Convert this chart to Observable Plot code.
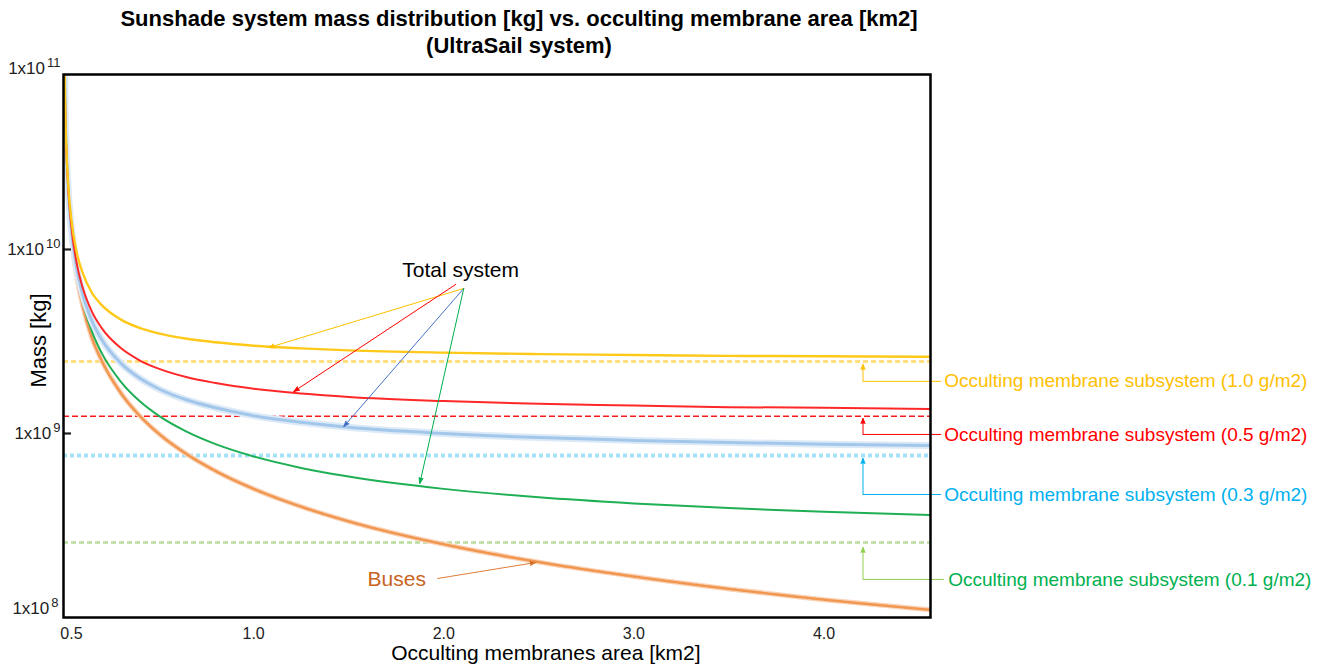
<!DOCTYPE html>
<html><head><meta charset="utf-8">
<script src="https://cdn.jsdelivr.net/npm/d3@7"></script>
<script src="https://cdn.jsdelivr.net/npm/@observablehq/plot@0.6"></script>
<style>
body{margin:0;background:#fff;font-family:"Liberation Sans",Arial,sans-serif;}
#title{width:1038px;height:60px;box-sizing:border-box;padding-top:5px;text-align:center;font-weight:bold;font-size:22px;line-height:27px;color:#000;}
#chart svg{display:block;}
</style></head><body>
<div id="title">Sunshade system mass distribution [kg] vs. occulting membrane area [km2]<br>(UltraSail system)</div>
<div id="chart"></div>
<script>
// ---- data ----
const area = [0.005, 0.01, 0.02, 0.04, 0.07, 0.1, 0.15, 0.2, 0.3, 0.4, 0.5, 0.65, 0.8, 1.0, 1.25, 1.5, 2.0, 2.5, 3.0, 3.5, 4.0, 4.56];
const buses = [1.0e11, 5.0e10, 2.5e10, 1.25e10, 7.1e9, 5.0e9, 3.3e9, 2.5e9, 1.67e9, 1.25e9, 1.0e9, 7.7e8, 6.25e8, 5.0e8, 4.0e8, 3.33e8, 2.5e8, 2.0e8, 1.67e8, 1.43e8, 1.25e8, 1.1e8];
const totalYellow = [1.025e11, 5.25e10, 2.75e10, 1.5e10, 9.6e9, 7.5e9, 5.8e9, 5.0e9, 4.17e9, 3.75e9, 3.5e9, 3.27e9, 3.13e9, 3.0e9, 2.9e9, 2.83e9, 2.75e9, 2.7e9, 2.67e9, 2.64e9, 2.63e9, 2.61e9];
const totalRed = [1.013e11, 5.13e10, 2.63e10, 1.38e10, 8.35e9, 6.25e9, 4.58e9, 3.75e9, 2.92e9, 2.5e9, 2.25e9, 2.02e9, 1.88e9, 1.75e9, 1.65e9, 1.58e9, 1.5e9, 1.45e9, 1.42e9, 1.39e9, 1.38e9, 1.36e9];
const totalBlue = [1.008e11, 5.08e10, 2.58e10, 1.33e10, 7.85e9, 5.75e9, 4.08e9, 3.25e9, 2.42e9, 2.0e9, 1.75e9, 1.52e9, 1.38e9, 1.25e9, 1.15e9, 1.08e9, 1.0e9, 9.5e8, 9.17e8, 8.93e8, 8.75e8, 8.6e8];
const totalGreen = [1.003e11, 5.03e10, 2.53e10, 1.28e10, 7.35e9, 5.25e9, 3.58e9, 2.75e9, 1.92e9, 1.5e9, 1.25e9, 1.02e9, 8.75e8, 7.5e8, 6.5e8, 5.83e8, 5.0e8, 4.5e8, 4.17e8, 3.93e8, 3.75e8, 3.6e8];
const membraneLevels = [2.46e9, 1.24e9, 7.6e8, 2.56e8];
const membraneLabels = ["Occulting membrane subsystem (1.0 g/m2)", "Occulting membrane subsystem (0.5 g/m2)", "Occulting membrane subsystem (0.3 g/m2)", "Occulting membrane subsystem (0.1 g/m2)"];
const xTickValues = [0.042, 1, 2, 3, 4];
const xTickLabels = ["0.5", "1.0", "2.0", "3.0", "4.0"];
const yTickValues = [1e9, 1e10];
const yLabelBase = "1x10";
const yLabelMid = [1e9, 1e10];
const yLabelMidExp = ["9", "10"];

// ---- annotation anchors (data units) ----
const subArrowX = [4.205, 4.205, 4.205, 4.205];
const subTipY = [2.37e9, 1.206e9, 7.31e8, 2.40e8];
const subCornerY = [1.92e9, 9.88e8, 4.66e8, 1.61e8];
const subLineEndX = [4.616, 4.616, 4.616, 4.63];
const subLabelX = [4.632, 4.632, 4.632, 4.653];
const subTextColors = ["#FFC000", "#FF0000", "#00B0F0", "#00B050"];
const subArrowColors = ["#FFC000", "#FF0000", "#00B0F0", "#92D050"];

const totArrowX1 = [2.105, 2.063, 2.105, 2.105];
const totArrowY1 = [6.14e9, 6.46e9, 6.14e9, 6.14e9];
const totArrowX2 = [1.079, 1.211, 1.474, 1.874];
const totArrowY2 = [2.93e9, 1.69e9, 1.09e9, 5.35e8];
const totArrowColors = ["#FFC000", "#FF0000", "#4472C4", "#00B050"];

const busArrowX = [1.968, 2.484];
const busArrowY = [1.63e8, 1.99e8];

// ---- tables ----
const series = (vals) => area.map((x, i) => ({x, y: vals[i]}));
const subRows = membraneLevels.map((m, i) => ({
  ax: subArrowX[i], tip: subTipY[i], corner: subCornerY[i], endX: subLineEndX[i],
  lx: subLabelX[i], label: membraneLabels[i], tc: subTextColors[i], ac: subArrowColors[i]
}));
const totRows = totArrowX1.map((x1, i) => ({x1, y1: totArrowY1[i], x2: totArrowX2[i], y2: totArrowY2[i], c: totArrowColors[i]}));

const font = "'Liberation Sans', Arial, sans-serif";

const chart = Plot.plot({
  width: 1328,
  height: 605,
  marginLeft: 63,
  marginRight: 398,
  marginTop: 14,
  marginBottom: 48,
  style: {fontFamily: font, background: "#fff", overflow: "visible"},
  x: {domain: [0, 4.56]},
  y: {type: "log", domain: [1e8, 8.93e10]},
  color: {type: "identity"},
  marks: [
    // membrane subsystem levels (dashed)
    Plot.ruleY([membraneLevels[0]], {stroke: "#FFDF80", strokeWidth: 3, strokeDasharray: "5,3"}),
    Plot.ruleY([membraneLevels[1]], {stroke: "#FF1A1A", strokeWidth: 1.6, strokeDasharray: "6,3"}),
    Plot.ruleY([membraneLevels[2]], {stroke: "#A5E2F8", strokeWidth: 4, strokeDasharray: "4,3"}),
    Plot.ruleY([membraneLevels[3]], {stroke: "#B8DC9C", strokeWidth: 2.5, strokeDasharray: "5,3"}),
    // buses
    Plot.line(series(buses), {x: "x", y: "y", stroke: "#FAD3B8", strokeWidth: 5, curve: "monotone-x", clip: true}),
    Plot.line(series(buses), {x: "x", y: "y", stroke: "#F0964F", strokeWidth: 2.5, strokeDasharray: "1.5,1.5", curve: "monotone-x", clip: true}),
    // totals
    Plot.line(series(totalGreen), {x: "x", y: "y", stroke: "#1FAF55", strokeWidth: 2, curve: "monotone-x", clip: true}),
    Plot.line(series(totalBlue), {x: "x", y: "y", stroke: "#DCEAF7", strokeWidth: 7, curve: "monotone-x", clip: true}),
    Plot.line(series(totalBlue), {x: "x", y: "y", stroke: "#A3C7EA", strokeWidth: 3, curve: "monotone-x", clip: true}),
    Plot.line(series(totalRed), {x: "x", y: "y", stroke: "#FF2828", strokeWidth: 2, curve: "monotone-x", clip: true}),
    Plot.line(series(totalYellow), {x: "x", y: "y", stroke: "#FFC91A", strokeWidth: 2.4, curve: "monotone-x", clip: true}),
    // "Total system" annotation
    Plot.arrow(totRows, {x1: "x1", y1: "y1", x2: "x2", y2: "y2", stroke: "c", fill: "c", strokeWidth: 1, headLength: 9, headAngle: 40}),
    Plot.text(["Total system"], {x: [2.089], y: [7.69e9], text: d => d, fontSize: 21, fill: "#000"}),
    // Buses annotation
    Plot.arrow([0], {x1: [busArrowX[0]], y1: [busArrowY[0]], x2: [busArrowX[1]], y2: [busArrowY[1]], stroke: "#E07B39", fill: "#C55A11", strokeWidth: 1, headLength: 9, headAngle: 40}),
    Plot.text(["Buses"], {x: [1.753], y: [1.61e8], text: d => d, fontSize: 21, fill: "#C8641E"}),
    // membrane subsystem labels and connectors
    Plot.link(subRows, {x1: "ax", x2: "endX", y1: "corner", y2: "corner", stroke: "ac", strokeWidth: 1}),
    Plot.arrow(subRows, {x1: "ax", x2: "ax", y1: "corner", y2: "tip", stroke: "ac", fill: "ac", strokeWidth: 1, headLength: 8, headAngle: 45}),
    Plot.text(subRows, {x: "lx", y: "corner", text: "label", fill: "tc", fontSize: 19, textAnchor: "start"}),
    // axes
    Plot.axisX({ticks: xTickValues, tickFormat: d => xTickLabels[xTickValues.indexOf(d)], tickSize: 0, tickPadding: 10, fontSize: 16, fill: "#222", label: null}),
    Plot.axisY({ticks: yTickValues, tickSize: -8, tickFormat: () => "", strokeWidth: 2.2, stroke: "#222", label: null}),
    Plot.text(yLabelMid, {y: d => d, frameAnchor: "left", text: (d, i) => yLabelBase + "^" + yLabelMidExp[i], textAnchor: "end", dx: -3, fontSize: 17, fill: "#222"}),
    Plot.text([1e8], {y: d => d, frameAnchor: "left", text: () => yLabelBase + "^8", textAnchor: "end", dx: -5, dy: -9, fontSize: 17, fill: "#222"}),
    Plot.text([1e11], {y: d => d, frameAnchor: "left", text: () => yLabelBase + "^11", textAnchor: "end", dx: -3, dy: 3, fontSize: 17, fill: "#222"}),
    Plot.text(["Mass [kg]"], {y: [3.2e9], frameAnchor: "left", text: d => d, rotate: -90, textAnchor: "middle", lineAnchor: "middle", dx: -25, fontSize: 22, fill: "#000"}),
    Plot.text(["Occulting membranes area [km2]"], {x: [2.537], frameAnchor: "bottom", text: d => d, textAnchor: "middle", lineAnchor: "middle", dy: 36, fontSize: 21, fill: "#000"}),
    Plot.frame({stroke: "#000", strokeWidth: 2.5})
  ]
});
document.getElementById("chart").append(chart);

// superscript exponents in the y tick labels
const ns = "http://www.w3.org/2000/svg";
chart.querySelectorAll("text").forEach(t => {
  const s = t.textContent;
  if (!s.includes("^")) return;
  const [base, exp] = s.split("^");
  while (t.firstChild) t.removeChild(t.firstChild);
  const a = document.createElementNS(ns, "tspan");
  a.textContent = base;
  const b = document.createElementNS(ns, "tspan");
  b.setAttribute("dy", "-7");
  b.setAttribute("dx", "2");
  b.setAttribute("font-size", "13");
  b.textContent = exp;
  t.append(a, b);
});
</script>
</body></html>
